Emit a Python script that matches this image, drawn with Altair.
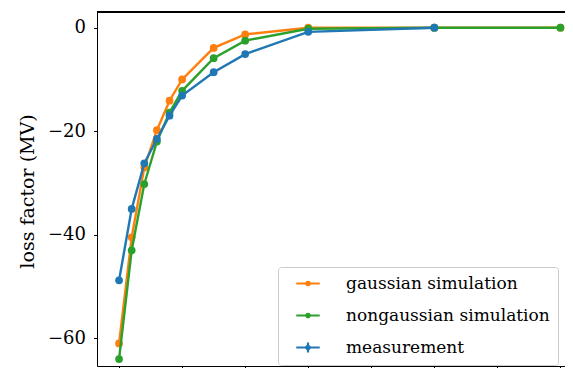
import altair as alt
import pandas as pd

x_vals = [0.5, 0.6, 0.7, 0.8, 0.9, 1.0, 1.25, 1.5, 2.0, 3.0, 4.0]
gaussian = [-61.0, -40.5, -27.0, -19.8, -14.1, -10.0, -3.9, -1.3, 0.0, 0.0, 0.0]
nongaussian = [-64.0, -43.0, -30.2, -22.0, -16.4, -12.2, -5.9, -2.5, -0.2, 0.0, 0.0]
x_meas = [0.5, 0.6, 0.7, 0.8, 0.9, 1.0, 1.25, 1.5, 2.0, 3.0]
measurement = [-48.8, -35.0, -26.2, -21.5, -17.0, -13.1, -8.6, -5.1, -0.8, 0.0]

series_names = ["gaussian simulation", "nongaussian simulation", "measurement"]
series_colors = ["#ff7f0e", "#2ca02c", "#1f77b4"]
y_ticks = [0, -20, -40, -60]
x_ticks = [0.5, 1.0, 1.5, 2.0, 2.5, 3.0, 3.5, 4.0]

rows = []
for xv, yv in zip(x_vals, gaussian):
    rows.append({"x": xv, "y": yv, "series": series_names[0]})
for xv, yv in zip(x_vals, nongaussian):
    rows.append({"x": xv, "y": yv, "series": series_names[1]})
for xv, yv in zip(x_meas, measurement):
    rows.append({"x": xv, "y": yv, "series": series_names[2]})
df = pd.DataFrame(rows)

FONT = "DejaVu Serif"
W, H = 468, 354
xscale = alt.Scale(domain=[0.325, 4.036], nice=False, zero=False)
yscale = alt.Scale(domain=[-65.35, 3.03], nice=False, zero=False)

xenc = alt.X("x:Q", scale=xscale,
             axis=alt.Axis(values=x_ticks, title=None, grid=False, labels=False,
                           tickSize=3.5, tickColor="#000", domainColor="#000"))
yenc = alt.Y("y:Q", scale=yscale,
             axis=alt.Axis(values=y_ticks, title="loss factor (MV)", grid=False,
                           tickSize=3.5, tickColor="#000", domainColor="#000",
                           labelFont=FONT, labelFontSize=18, labelColor="#000",
                           labelPadding=8,
                           titleFont=FONT, titleFontSize=19, titleFontWeight="normal",
                           titleColor="#000", titleX=-70, titleY=179, titleAngle=270,
                           titleAlign="center", titleBaseline="middle"))

layers = []
for name, col in zip(series_names, series_colors):
    sub = alt.Chart(df).transform_filter(alt.datum.series == name)
    layers.append(sub.mark_line(strokeWidth=2.4, color=col).encode(x=xenc, y=yenc))
    layers.append(sub.mark_circle(size=60, opacity=1, color=col).encode(x=xenc, y=yenc))

# legend symbols: line + dot (+ vertical errorbar for measurement)
circ = "M-0.35,0a0.35,0.35 0 1,0 0.7,0a0.35,0.35 0 1,0 -0.7,0Z"
p_line = "M-2.35,0H2.35" + circ
p_err = "M-2.35,0H2.35M0,-1V1" + circ
shape_range = [p_line, p_line, p_err]

legend_layer = alt.Chart(df).transform_filter("false").mark_point(
    filled=True, strokeWidth=2.2, opacity=1
).encode(
    x=xenc, y=yenc,
    fill=alt.Fill("series:N", scale=alt.Scale(domain=series_names, range=series_colors),
                  legend=alt.Legend(title=None)),
    stroke=alt.Stroke("series:N", scale=alt.Scale(domain=series_names, range=series_colors),
                      legend=alt.Legend(title=None)),
    shape=alt.Shape("series:N", scale=alt.Scale(domain=series_names, range=shape_range),
                    legend=alt.Legend(title=None)),
    size=alt.value(100),
)

frame_top = alt.Chart(df).mark_rule(color="#000", strokeWidth=1).encode(
    y=alt.value(0), x=alt.value(0), x2=alt.value(W))

chart = alt.layer(legend_layer, *layers, frame_top).properties(
    width=W, height=H,
    autosize=alt.AutoSizeParams(type="none"),
    padding={"left": 89, "top": 4, "right": 0, "bottom": 2},
).configure_view(stroke=None).configure_legend(
    orient="none", legendX=181, legendY=255,
    labelFont=FONT, labelFontSize=17, labelColor="#000", labelLimit=400,
    padding=8, symbolOffset=13.5, labelOffset=29.5, rowPadding=14,
    strokeColor="#cccccc", fillColor="#ffffff", cornerRadius=3,
    symbolStrokeWidth=2.2,
)

chart.save("out.html", embed_options={"renderer": "svg", "actions": False})
